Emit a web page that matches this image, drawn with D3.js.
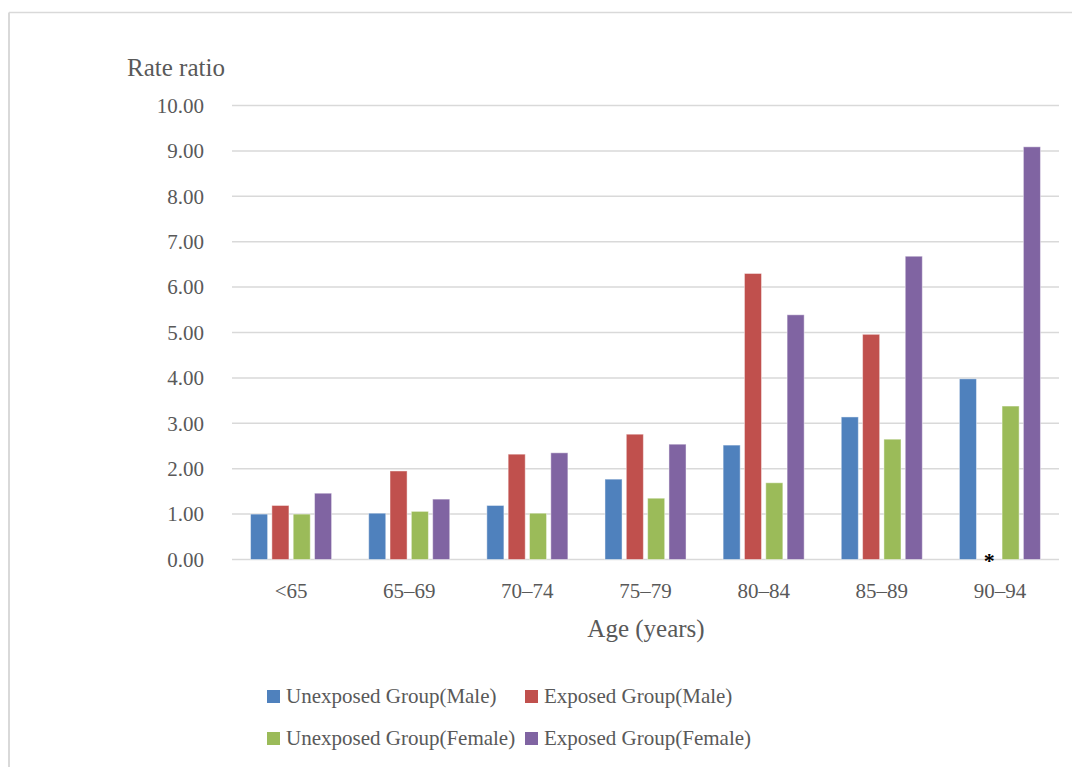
<!DOCTYPE html>
<html>
<head>
<meta charset="utf-8">
<script src="https://cdn.jsdelivr.net/npm/d3@7"></script>
<style>
  html, body { margin: 0; padding: 0; background: #fff; }
  svg { display: block; }
  text { font-family: "Liberation Serif", "Times New Roman", serif; fill: #595959; }
</style>
</head>
<body>
<svg id="chart" width="1072" height="767"></svg>
<script>
// Age bands on the x axis
const ageGroups = ["<65", "65\u201369", "70\u201374", "75\u201379", "80\u201384", "85\u201389", "90\u201394"];

// Rate ratios per series (null = not available, marked with an asterisk)
const unexposedMale   = [1.00, 1.02, 1.19, 1.77, 2.52, 3.14, 3.98];
const exposedMale     = [1.19, 1.95, 2.32, 2.76, 6.30, 4.96, null];
const unexposedFemale = [1.00, 1.06, 1.02, 1.35, 1.69, 2.65, 3.38];
const exposedFemale   = [1.46, 1.33, 2.35, 2.54, 5.39, 6.68, 9.09];

const seriesNames = ["Unexposed Group(Male)", "Exposed Group(Male)", "Unexposed Group(Female)", "Exposed Group(Female)"];
const seriesColors = ["#4F81BD", "#C0504D", "#9BBB59", "#8064A2"];
const yTicks = [0, 1, 2, 3, 4, 5, 6, 7, 8, 9, 10];

const seriesValues = [unexposedMale, exposedMale, unexposedFemale, exposedFemale];

const svg = d3.select("#chart");

// outer frame (top and left edges)
svg.append("line").attr("x1", 9).attr("x2", 1072).attr("y1", 12.5).attr("y2", 12.5)
  .attr("stroke", "#d9d9d9").attr("stroke-width", 1.5);
svg.append("line").attr("x1", 9).attr("x2", 9).attr("y1", 12.5).attr("y2", 767)
  .attr("stroke", "#d9d9d9").attr("stroke-width", 2);

const x0 = d3.scaleBand().domain(ageGroups).range([232, 1059]).paddingInner(0.314).paddingOuter(0.157);
const x1 = d3.scaleBand().domain(d3.range(seriesNames.length)).range([0, x0.bandwidth()]).paddingInner(0.2);
const y = d3.scaleLinear().domain([0, 10]).range([559.5, 105.5]);

// gridlines
svg.append("g").selectAll("line").data(yTicks).join("line")
  .attr("x1", 232).attr("x2", 1059)
  .attr("y1", d => y(d)).attr("y2", d => y(d))
  .attr("stroke", "#d9d9d9").attr("stroke-width", 1.5);

// y tick labels
svg.append("g").selectAll("text").data(yTicks).join("text")
  .attr("x", 204).attr("y", d => y(d)).attr("dy", "0.35em")
  .attr("text-anchor", "end").attr("font-size", 21)
  .text(d => d3.format(".2f")(d));

// y axis title
svg.append("text").attr("x", 127).attr("y", 76).attr("font-size", 25).text("Rate ratio");

// bars
const groups = svg.append("g").selectAll("g").data(ageGroups).join("g")
  .attr("transform", d => `translate(${x0(d)},0)`);

groups.selectAll("rect")
  .data((d, i) => seriesValues.map((vals, s) => ({ s, v: vals[i] })).filter(e => e.v != null))
  .join("rect")
  .attr("x", e => x1(e.s))
  .attr("width", x1.bandwidth())
  .attr("y", e => y(e.v))
  .attr("height", e => y(0) - y(e.v))
  .attr("fill", e => seriesColors[e.s])
  .attr("stroke", "#ffffff").attr("stroke-opacity", 0.45).attr("stroke-width", 1);

// asterisk for missing values
groups.selectAll("text.missing")
  .data((d, i) => seriesValues.map((vals, s) => ({ s, v: vals[i] })).filter(e => e.v == null))
  .join("text")
  .attr("class", "missing")
  .attr("x", e => x1(e.s) + x1.bandwidth() / 2)
  .attr("y", y(0) + 8)
  .attr("text-anchor", "middle")
  .attr("font-size", 22).attr("font-weight", "bold")
  .style("fill", "#000")
  .text("*");

// x tick labels
svg.append("g").selectAll("text").data(ageGroups).join("text")
  .attr("x", d => x0(d) + x0.bandwidth() / 2).attr("y", 598)
  .attr("text-anchor", "middle").attr("font-size", 21)
  .text(d => d);

// x axis title
svg.append("text").attr("x", 646).attr("y", 637).attr("text-anchor", "middle")
  .attr("font-size", 25).text("Age (years)");

// legend
const legendPos = [[267, 703], [525, 703], [267, 745], [525, 745]];
const legend = svg.append("g").selectAll("g").data(seriesNames).join("g")
  .attr("transform", (d, i) => `translate(${legendPos[i][0]},${legendPos[i][1]})`);
legend.append("rect").attr("x", 0).attr("y", -13).attr("width", 13).attr("height", 13)
  .attr("fill", (d, i) => seriesColors[i]);
legend.append("text").attr("x", 19).attr("y", 0).attr("font-size", 21).text(d => d);
</script>
</body>
</html>
